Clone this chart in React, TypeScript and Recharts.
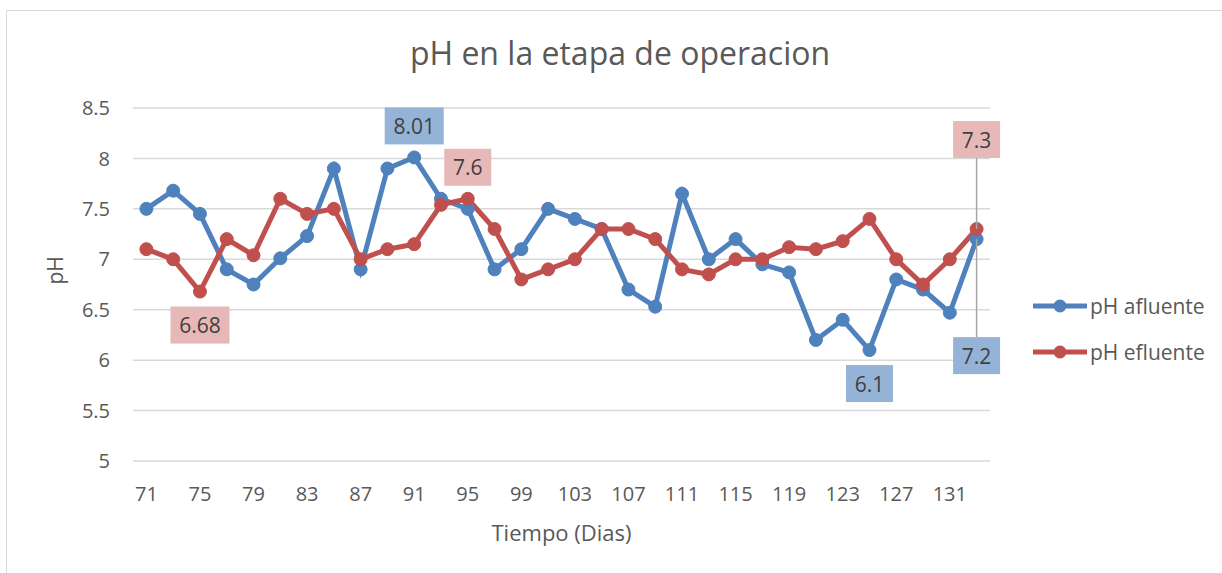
import { LineChart, Line, XAxis, YAxis, CartesianGrid, Legend, LabelList } from 'recharts';

const days = [71, 73, 75, 77, 79, 81, 83, 85, 87, 89, 91, 93, 95, 97, 99, 101, 103, 105, 107, 109, 111, 113, 115, 117, 119, 121, 123, 125, 127, 129, 131, 133];

const afluente = [7.5, 7.68, 7.45, 6.9, 6.75, 7.01, 7.23, 7.9, 6.9, 7.9, 8.01, 7.6, 7.5, 6.9, 7.1, 7.5, 7.4, 7.3, 6.7, 6.53, 7.65, 7.0, 7.2, 6.95, 6.87, 6.2, 6.4, 6.1, 6.8, 6.7, 6.47, 7.2];

const efluente = [7.1, 7.0, 6.68, 7.2, 7.04, 7.6, 7.45, 7.5, 7.0, 7.1, 7.15, 7.54, 7.6, 7.3, 6.8, 6.9, 7.0, 7.3, 7.3, 7.2, 6.9, 6.85, 7.0, 7.0, 7.12, 7.1, 7.18, 7.4, 7.0, 6.75, 7.0, 7.3];

const yTicks = [5, 5.5, 6, 6.5, 7, 7.5, 8, 8.5];

// which points carry a data label, and where
const afluenteLabels: Record<number, string> = { 91: 'top', 125: 'bottom', 133: 'leaderBottom' };
const efluenteLabels: Record<number, string> = { 75: 'bottom', 95: 'top', 133: 'leaderTop' };

const data = days.map((d, i) => ({ day: d, afluente: afluente[i], efluente: efluente[i] }));

const FONT = '"Open Sans", sans-serif';
const TEXT = '#595959';
const BLUE = '#4F81BD';
const RED = '#C0504D';

function makeLabel(positions: Record<number, string>, fill: string) {
  return (props: any) => {
    const { x, y, value, index } = props;
    const pos = positions[days[index]];
    if (!pos) return null;
    const text = String(value);
    const w = 11 + text.length * 12;
    const h = 37;
    let top = 0;
    let leader: [number, number] | null = null;
    if (pos === 'top') top = y - 13 - h;
    else if (pos === 'bottom') top = y + 15;
    else if (pos === 'leaderTop') {
      top = y - 71 - h;
      leader = [top + h, y];
    } else {
      top = y + 98;
      leader = [y, top];
    }
    return (
      <g>
        {leader && <line x1={x} x2={x} y1={leader[0]} y2={leader[1]} stroke="#A6A6A6" strokeWidth={1.5} />}
        <rect x={x - w / 2} y={top} width={w} height={h} fill={fill} />
        <text
          x={x}
          y={top + h / 2}
          textAnchor="middle"
          dominantBaseline="central"
          fontSize={21}
          fontFamily={FONT}
          fill="#404040"
        >
          {text}
        </text>
      </g>
    );
  };
}

function ChartLegend() {
  const items = [
    { name: 'pH afluente', color: BLUE },
    { name: 'pH efluente', color: RED },
  ];
  return (
    <div style={{ fontFamily: FONT, fontSize: 21, color: TEXT }}>
      {items.map((it) => (
        <div key={it.name} style={{ display: 'flex', alignItems: 'center', height: 46 }}>
          <svg width={58} height={16}>
            <line x1={2} x2={56} y1={8} y2={8} stroke={it.color} strokeWidth={5} />
            <circle cx={29} cy={8} r={6.5} fill={it.color} />
          </svg>
          <span style={{ marginLeft: 1, whiteSpace: 'nowrap' }}>{it.name}</span>
        </div>
      ))}
    </div>
  );
}

export default function App() {
  return (
    <div style={{ position: 'absolute', left: 0, top: 0, width: 1222, height: 573, overflow: 'hidden', background: '#fff' }}>
      <div
        style={{
          position: 'absolute',
          left: 6,
          top: 10,
          width: 1240,
          height: 600,
          border: '1.5px solid #D9D9D9',
        }}
      />
      <div
        style={{
          position: 'absolute',
          left: 0,
          width: 1240,
          top: 31,
          textAlign: 'center',
          fontFamily: FONT,
          fontSize: 32,
          color: TEXT,
          whiteSpace: 'nowrap',
        }}
      >
        pH en la etapa de operacion
      </div>
      <div style={{ position: 'absolute', left: 0, top: 0 }}>
        <LineChart width={1222} height={573} data={data} margin={{ top: 108, right: 232, bottom: 0, left: 0 }}>
          <CartesianGrid vertical={false} stroke="#D9D9D9" strokeWidth={1.5} />
          <XAxis
            dataKey="day"
            type="category"
            height={112}
            interval={1}
            axisLine={false}
            tickLine={false}
            tickSize={0}
            tickMargin={26}
            padding={{ left: 13.4, right: 13.4 }}
            tick={{ fontSize: 20, fill: TEXT, fontFamily: FONT }}
            label={{ value: 'Tiempo (Dias)', position: 'insideBottom', offset: 32, fontSize: 22, fill: TEXT, fontFamily: FONT }}
          />
          <YAxis
            width={133}
            domain={[5, 8.5]}
            ticks={yTicks}
            axisLine={false}
            tickLine={false}
            tickSize={0}
            tickMargin={23}
            tick={{ fontSize: 20, fill: TEXT, fontFamily: FONT }}
            label={{ value: 'pH', angle: -90, position: 'insideLeft', offset: 56, fontSize: 21, fill: TEXT, fontFamily: FONT }}
          />
          <Legend
            layout="horizontal"
            align="center"
            verticalAlign="middle"
            width={190}
            content={() => <ChartLegend />}
            wrapperStyle={{ left: 1031, top: 283, width: 190 }}
          />
          <Line
            dataKey="afluente"
            name="pH afluente"
            stroke={BLUE}
            strokeWidth={5}
            dot={{ r: 6.5, fill: BLUE, stroke: BLUE, strokeWidth: 1 }}
            isAnimationActive={false}
          >
            <LabelList dataKey="afluente" content={makeLabel(afluenteLabels, '#95B3D7')} />
          </Line>
          <Line
            dataKey="efluente"
            name="pH efluente"
            stroke={RED}
            strokeWidth={5}
            dot={{ r: 6.5, fill: RED, stroke: RED, strokeWidth: 1 }}
            isAnimationActive={false}
          >
            <LabelList dataKey="efluente" content={makeLabel(efluenteLabels, '#E6B9B8')} />
          </Line>
        </LineChart>
      </div>
    </div>
  );
}
